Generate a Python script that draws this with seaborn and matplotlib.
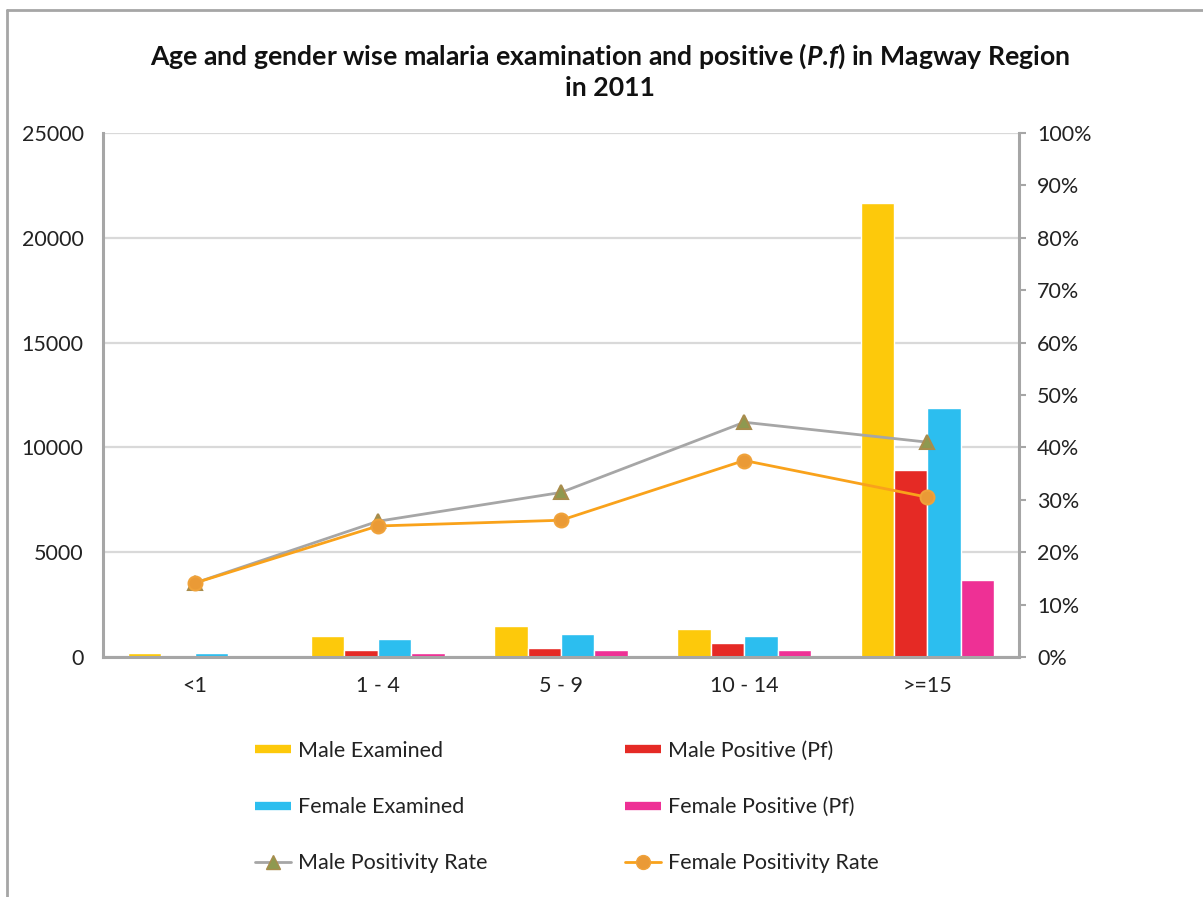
import matplotlib
matplotlib.use("Agg")
import matplotlib.pyplot as plt
import seaborn as sns
import pandas as pd
from matplotlib.lines import Line2D
from matplotlib.ticker import PercentFormatter

# ---- data ----
age_groups = ["<1", "1 - 4", "5 - 9", "10 - 14", ">=15"]
male_examined = [200, 1000, 1460, 1340, 21670]
male_positive = [60, 320, 430, 650, 8900]
female_examined = [200, 880, 1110, 1000, 11860]
female_positive = [60, 190, 320, 320, 3670]
male_rate = [14.1, 25.9, 31.4, 44.8, 41.0]
female_rate = [14.1, 25.0, 26.1, 37.5, 30.5]

bar_series = ["Male Examined", "Male Positive (Pf)", "Female Examined", "Female Positive (Pf)"]
bar_colors = ["#FDC90B", "#E52A25", "#2CBEEF", "#EE3095"]

rows = []
for name, vals in zip(bar_series, [male_examined, male_positive, female_examined, female_positive]):
    for a, v in zip(age_groups, vals):
        rows.append({"age": a, "series": name, "value": v})
df = pd.DataFrame(rows)
rate_df = pd.DataFrame({"age": age_groups, "male": male_rate, "female": female_rate})

sns.set_theme(style="white")
plt.rcParams["font.family"] = ["Lato", "DejaVu Sans"]
plt.rcParams["mathtext.fontset"] = "custom"
plt.rcParams["mathtext.it"] = "Lato:italic:bold"
plt.rcParams["mathtext.rm"] = "Lato:bold"

FS = 15.5
fig = plt.figure(figsize=(12.03, 8.97), dpi=100)
ax = fig.add_axes([103 / 1203, 1 - 657 / 897, 916 / 1203, 524 / 897])

sns.barplot(data=df, x="age", y="value", hue="series", hue_order=bar_series,
            palette=bar_colors, ax=ax, width=0.73, saturation=1, legend=False,
            order=age_groups)
ax.set_ylim(0, 25000)
ax.set_yticks(range(0, 25001, 5000))
ax.yaxis.grid(True, color="#D9D9D9", lw=1.6)
ax.set_axisbelow(True)
ax.set_xlabel("")
ax.set_ylabel("")
for s in ["top", "right"]:
    ax.spines[s].set_visible(False)
for s in ["left", "bottom"]:
    ax.spines[s].set_color("#A6A6A6")
    ax.spines[s].set_linewidth(2.2)
ax.tick_params(axis="y", length=0, pad=14, labelsize=FS, labelcolor="#222222")
ax.tick_params(axis="x", length=0, pad=14, labelsize=FS, labelcolor="#222222")

ax2 = ax.twinx()
sns.pointplot(data=rate_df, x="age", y="male", ax=ax2, color="#A6A6A6",
              markers="^", linestyles="-", order=age_groups,
              markersize=10, markerfacecolor="#8E9950", markeredgecolor="#A88C4C",
              linewidth=2)
sns.pointplot(data=rate_df, x="age", y="female", ax=ax2, color="#F9A21B",
              markers="o", linestyles="-", order=age_groups,
              markersize=10, markerfacecolor="#EA9A36", markeredgecolor="#F0A23A",
              linewidth=2)
ax2.set_ylim(0, 100)
ax2.set_yticks(range(0, 101, 10))
ax2.yaxis.set_major_formatter(PercentFormatter(decimals=0))
ax2.set_ylabel("")
ax2.set_xlabel("")
for s in ["top", "left", "bottom"]:
    ax2.spines[s].set_visible(False)
ax2.spines["right"].set_color("#A6A6A6")
ax2.spines["right"].set_linewidth(2.2)
ax2.tick_params(axis="y", length=5, width=1.5, color="#A6A6A6", direction="out",
                pad=8, labelsize=FS, labelcolor="#222222")
ax2.set_xlim(ax.get_xlim())

fig.text(0.507, 1 - 71 / 897,
         "Age and gender wise malaria examination and positive ($\\mathit{P.}\\!\\mathit{f}$) in Magway Region\nin 2011",
         ha="center", va="center", fontsize=19.2, fontweight="bold", linespacing=1.25,
         color="#111111")

handles = [
    Line2D([0], [0], color=bar_colors[0], lw=6, solid_capstyle="butt"),
    Line2D([0], [0], color=bar_colors[2], lw=6, solid_capstyle="butt"),
    Line2D([0], [0], color="#A6A6A6", lw=2, marker="^", markersize=10,
           markerfacecolor="#8E9950", markeredgecolor="#A88C4C"),
    Line2D([0], [0], color=bar_colors[1], lw=6, solid_capstyle="butt"),
    Line2D([0], [0], color=bar_colors[3], lw=6, solid_capstyle="butt"),
    Line2D([0], [0], color="#F9A21B", lw=2, marker="o", markersize=10,
           markerfacecolor="#EA9A36", markeredgecolor="#F0A23A"),
]
labels = ["Male Examined", "Female Examined", "Male Positivity Rate",
          "Male Positive (Pf)", "Female Positive (Pf)", "Female Positivity Rate"]
fig.legend(handles, labels, ncol=2, loc="upper left",
           bbox_to_anchor=(255 / 1203, 1 - 741 / 897), frameon=False,
           fontsize=FS, handlelength=1.68, handletextpad=0.3,
           borderpad=0, borderaxespad=0,
           columnspacing=6.4, labelspacing=1.68, labelcolor="#222222")

# outer frame
fig.add_artist(Line2D([7 / 1203, 1.0], [1 - 10 / 897, 1 - 10 / 897],
                      transform=fig.transFigure, color="#A6A6A6", lw=2))
fig.add_artist(Line2D([7 / 1203, 7 / 1203], [0, 1 - 10 / 897],
                      transform=fig.transFigure, color="#A6A6A6", lw=2))

fig.savefig("out.png", dpi=100)
